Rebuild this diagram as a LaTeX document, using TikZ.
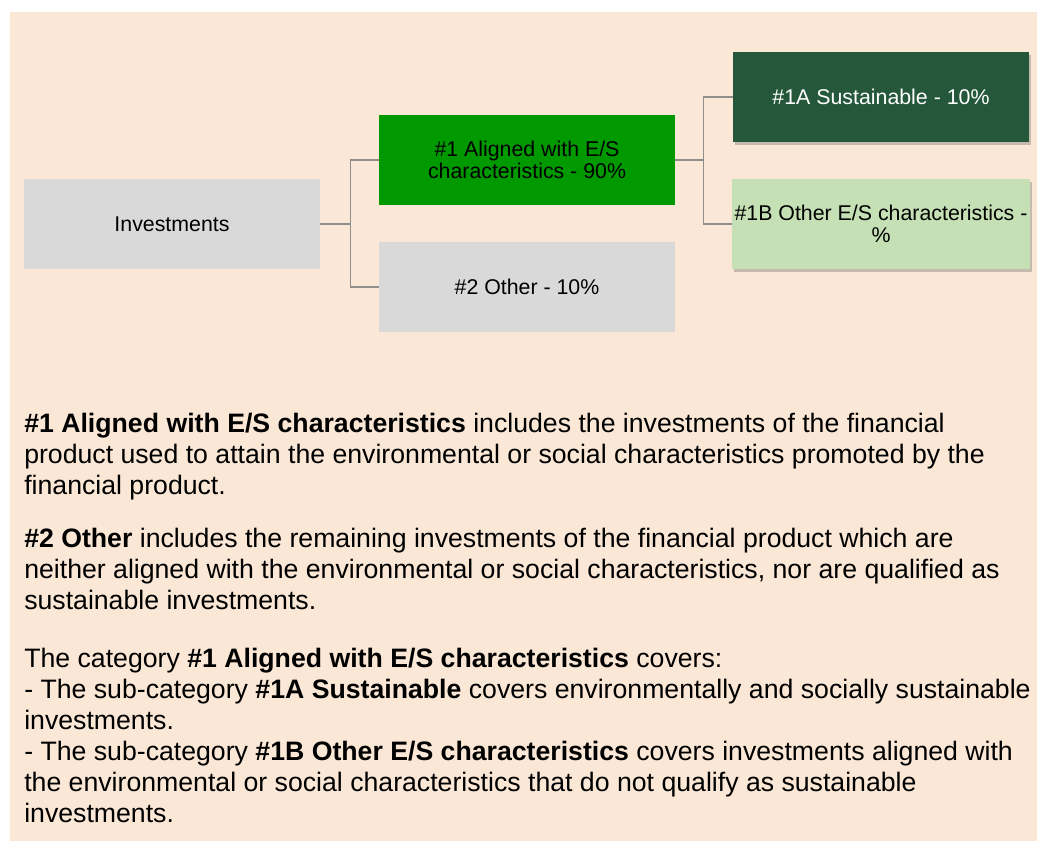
\documentclass[tikz,border=0pt]{standalone}
\usepackage{fontspec}
\setmainfont{Liberation Sans}
\usepackage{xcolor}
\usepackage{tikz}
\usetikzlibrary{positioning,shadows}
\definecolor{peach}{HTML}{FAE7D6}
\definecolor{boxgray}{HTML}{D9D9D9}
\definecolor{midgreen}{HTML}{009900}
\definecolor{darkgreen}{HTML}{25583A}
\definecolor{lightgreen}{HTML}{C5E0B4}
\definecolor{linegray}{HTML}{8E8E8E}

\begin{document}
\begin{tikzpicture}[x=0.75pt,y=-0.75pt,
  box/.style={minimum width=222pt,minimum height=67.5pt,inner sep=2pt,align=center,
    font=\fontsize{16}{16}\selectfont},
  shade/.style={drop shadow={shadow xshift=1.5pt,shadow yshift=-2pt,opacity=.35,fill=black!60}},
  conn/.style={draw=linegray,line width=1.1pt},
  para/.style={anchor=base west,inner sep=0pt,align=left,font=\fontsize{20}{23.25}\selectfont}]
  \useasboundingbox (0,0) rectangle (1037,841);
  \fill[peach] (10,12) rectangle (1037,841);
  \node[box,fill=boxgray] (invest) at (172,224) {Investments};
  \node[box,fill=midgreen] (aligned) at (527,160) {\#1 Aligned with E/S\\characteristics - 90\%};
  \node[box,fill=boxgray] (other) at (527,287) {\#2 Other - 10\%};
  \node[box,shade,fill=darkgreen,text=white] (sustain) at (881,97) {\#1A Sustainable - 10\%};
  \node[box,shade,fill=lightgreen] (otheres) at (881,224) {\#1B Other E/S characteristics -\\\%};
  \draw[conn] (invest.east) -- ++(30,0) |- (aligned.west);
  \draw[conn] (invest.east) -- ++(30,0) |- (other.west);
  \draw[conn] (aligned.east) -- ++(28,0) |- (sustain.west);
  \draw[conn] (aligned.east) -- ++(28,0) |- (otheres.west);
  \node[para] (text1) at (24,494) {\textbf{\#1 Aligned with E/S characteristics} includes the investments of the financial\\
    product used to attain the environmental or social characteristics promoted by the\\
    financial product.};
  \node[para] (text2) at (24,609) {\textbf{\#2 Other} includes the remaining investments of the financial product which are\\
    neither aligned with the environmental or social characteristics, nor are qualified as\\
    sustainable investments.};
  \node[para] (text3) at (24,822) {The category \textbf{\#1 Aligned with E/S characteristics} covers:\\
    - The sub-category \textbf{\#1A Sustainable} covers environmentally and socially sustainable\\
    investments.\\
    - The sub-category \textbf{\#1B Other E/S characteristics} covers investments aligned with\\
    the environmental or social characteristics that do not qualify as sustainable\\
    investments.};
\end{tikzpicture}
\end{document}
